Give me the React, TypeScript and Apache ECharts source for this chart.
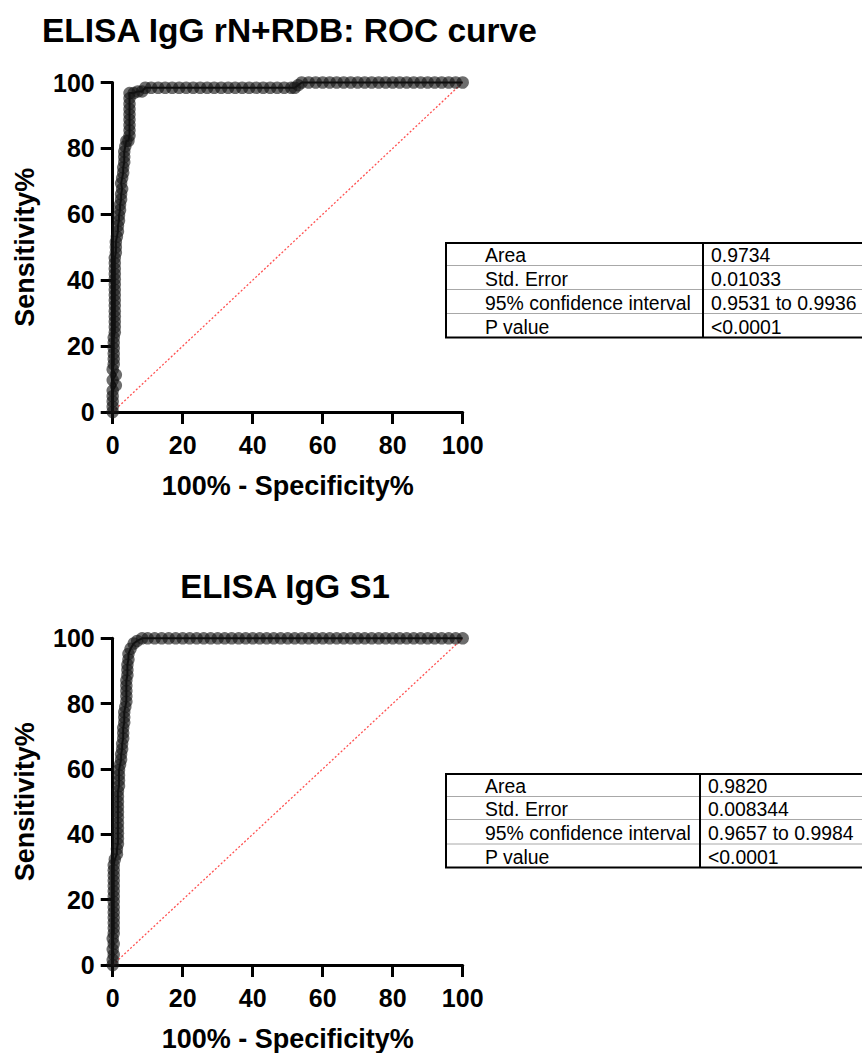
import React, { useEffect, useRef } from "react";
import * as echarts from "echarts";

const FONT = "'Liberation Sans', Arial, Helvetica, sans-serif";

const titles = ["ELISA IgG rN+RDB: ROC curve", "ELISA IgG S1"];
const xAxisTitle = "100% - Specificity%";
const yAxisTitle = "Sensitivity%";

// [100% - Specificity%, Sensitivity%]
const topCurve: [number, number][] = [
  [0, 0], [0, 1.6], [0, 3.2], [0, 4.8], [0, 6.5], [0.9, 8.1], [0, 9.7], [0.9, 11.3], [0, 12.9], [0.3, 14.5],
  [0.3, 16.1], [0.3, 17.7], [0.3, 19.4], [0.3, 21], [0.3, 22.6], [0.6, 24.2], [0.6, 25.8], [0.6, 27.4], [0.6, 29],
  [0.6, 30.6], [0.6, 32.3], [0.6, 33.9], [0.6, 35.5], [0.6, 37.1], [0.6, 38.7], [0.6, 40.3], [0.6, 41.9], [0.6, 43.5],
  [0.6, 45.2], [0.6, 46.8], [0.9, 48.4], [0.9, 50], [0.9, 51.6], [1.2, 53.2], [1.5, 54.8], [1.5, 56.5], [1.8, 58.1],
  [1.8, 59.7], [2.1, 61.3], [2.1, 62.9], [2.4, 64.5], [2.4, 66.1], [2.7, 67.7], [2.4, 69.4], [2.7, 71], [3, 72.6],
  [3, 74.2], [3.3, 75.8], [3.3, 77.4], [3.3, 79], [3.6, 80.6], [3.9, 82.3], [4.5, 82.3], [4.8, 83.9], [4.8, 85.5],
  [4.8, 87.1], [4.8, 88.7], [4.8, 90.3], [4.8, 91.9], [4.8, 93.5], [4.8, 95.2], [4.8, 96.8], [6, 96.8], [7.2, 97.3],
  [8.4, 97.3], [9.3, 98.4], [11, 98.4], [13, 98.4], [15, 98.4], [17, 98.4], [19, 98.4], [21, 98.4], [23, 98.4],
  [25, 98.4], [27, 98.4], [29, 98.4], [31, 98.4], [33, 98.4], [35, 98.4], [37, 98.4], [39, 98.4], [41, 98.4],
  [43, 98.4], [45, 98.4], [47, 98.4], [49, 98.4], [51, 98.4], [52, 98.4], [53, 99.2], [54, 100], [56, 100],
  [58, 100], [60, 100], [62, 100], [64, 100], [66, 100], [68, 100], [70, 100], [72, 100], [74, 100], [76, 100],
  [78, 100], [80, 100], [82, 100], [84, 100], [86, 100], [88, 100], [90, 100], [92, 100], [94, 100], [96, 100],
  [98, 100], [100, 100],
];

const bottomCurve: [number, number][] = [
  [0, 0], [0, 1.6], [0.3, 3.2], [0, 4.8], [0.3, 6.5], [0, 8.1], [0.3, 9.7], [0.3, 11.3], [0.3, 12.9], [0.3, 14.5],
  [0.3, 16.1], [0.3, 17.7], [0.3, 19.4], [0.3, 21], [0.3, 22.6], [0.3, 24.2], [0.3, 25.8], [0.3, 27.4], [0.3, 29],
  [0.3, 30.6], [0.6, 32.3], [1.2, 33.9], [1.2, 35.5], [1.5, 37.1], [1.5, 38.7], [1.5, 40.3], [1.5, 41.9], [1.5, 43.5],
  [1.5, 45.2], [1.5, 46.8], [1.5, 48.4], [1.5, 50], [1.5, 51.6], [1.5, 53.2], [1.8, 54.8], [1.8, 56.5], [1.8, 58.1],
  [1.8, 59.7], [2.1, 61.3], [2.4, 62.9], [2.4, 64.5], [2.7, 66.1], [2.7, 67.7], [3, 69.4], [3, 71], [3, 72.6],
  [3.3, 74.2], [3.3, 75.8], [3.3, 77.4], [3.6, 79], [3.9, 80.6], [3.9, 82.3], [3.9, 83.9], [3.9, 85.5], [3.9, 87.1],
  [4.2, 88.7], [4.2, 90.3], [4.2, 91.9], [4.5, 93.5], [4.5, 95.2], [5.1, 96.8], [6, 98.4], [7, 99.2], [8.4, 100],
  [10, 100], [12, 100], [14, 100], [16, 100], [18, 100], [20, 100], [22, 100], [24, 100], [26, 100], [28, 100],
  [30, 100], [32, 100], [34, 100], [36, 100], [38, 100], [40, 100], [42, 100], [44, 100], [46, 100], [48, 100],
  [50, 100], [52, 100], [54, 100], [56, 100], [58, 100], [60, 100], [62, 100], [64, 100], [66, 100], [68, 100],
  [70, 100], [72, 100], [74, 100], [76, 100], [78, 100], [80, 100], [82, 100], [84, 100], [86, 100], [88, 100],
  [90, 100], [92, 100], [94, 100], [96, 100], [98, 100], [100, 100],
];

const chanceLine: [number, number][] = [[0, 0], [100, 100]];

const tableLabels = ["Area", "Std. Error", "95% confidence interval", "P value"];
const topValues = ["0.9734", "0.01033", "0.9531 to 0.9936", "<0.0001"];
const bottomValues = ["0.9820", "0.008344", "0.9657 to 0.9984", "<0.0001"];

const GRIDS = [
  { left: 112.7, top: 82.5, width: 350, height: 329.5 },
  { left: 112.7, top: 638.3, width: 350, height: 332.5 },
];

function makeTable(x: number, y: number, divX: number, rowHs: number[], values: string[]) {
  const width = 440;
  const total = rowHs.reduce((a, b) => a + b, 0);
  const children: any[] = [];
  children.push({
    type: "rect",
    shape: { x, y, width, height: total },
    style: { fill: "#fff", stroke: "#000", lineWidth: 2 },
  });
  let yy = y;
  rowHs.forEach((h, i) => {
    if (i > 0) {
      children.push({
        type: "line",
        shape: { x1: x + 1, y1: yy, x2: x + width, y2: yy },
        style: { stroke: "#a8a8a8", lineWidth: 1 },
      });
    }
    children.push({
      type: "text",
      x: 485,
      y: yy + h / 2 + 1,
      style: { text: tableLabels[i], font: `19.4px ${FONT}`, fill: "#000", textVerticalAlign: "middle", textAlign: "left" },
    });
    children.push({
      type: "text",
      x: divX + 8,
      y: yy + h / 2 + 1,
      style: { text: values[i], font: `19.4px ${FONT}`, fill: "#000", textVerticalAlign: "middle", textAlign: "left" },
    });
    yy += h;
  });
  children.push({
    type: "line",
    shape: { x1: divX, y1: y, x2: divX, y2: y + total },
    style: { stroke: "#000", lineWidth: 2 },
  });
  return { type: "group", children };
}

function axisCommon() {
  return {
    type: "value",
    min: 0,
    max: 100,
    interval: 20,
    splitLine: { show: false },
    axisLine: { show: true, onZero: false, lineStyle: { color: "#000", width: 3 } },
    axisTick: { show: true, length: 12, lineStyle: { color: "#000", width: 3 } },
    axisLabel: { color: "#000", fontSize: 25, fontWeight: "bold", fontFamily: FONT },
    nameTextStyle: { color: "#000", fontSize: 27, fontWeight: "bold", fontFamily: FONT },
  };
}

export default function App() {
  const ref = useRef<HTMLDivElement>(null);
  useEffect(() => {
    if (!ref.current) return;
    const chart = echarts.init(ref.current, null, { renderer: "svg" });
    const xAxes = GRIDS.map((_, i) => ({
      ...axisCommon(),
      gridIndex: i,
      name: xAxisTitle,
      nameLocation: "middle",
      nameGap: 60,
      axisLabel: { ...axisCommon().axisLabel, margin: 20 },
    }));
    const yAxes = GRIDS.map((_, i) => ({
      ...axisCommon(),
      gridIndex: i,
      name: yAxisTitle,
      nameLocation: "middle",
      nameRotate: 90,
      nameGap: 74,
      axisLabel: { ...axisCommon().axisLabel, margin: 18 },
    }));
    const curves = [topCurve, bottomCurve];
    const series: any[] = [];
    curves.forEach((c, i) => {
      series.push({
        type: "line",
        xAxisIndex: i,
        yAxisIndex: i,
        data: chanceLine,
        showSymbol: false,
        lineStyle: { color: "#ff5050", width: 1.3, type: [2, 2] },
        silent: true,
        z: 1,
      });
      series.push({
        type: "line",
        xAxisIndex: i,
        yAxisIndex: i,
        data: c,
        symbol: "circle",
        symbolSize: 12.5,
        showSymbol: true,
        showAllSymbol: true,
        clip: false,
        itemStyle: { color: "rgba(20,20,20,0.62)", borderWidth: 0 },
        lineStyle: { color: "#000", width: 2 },
        silent: true,
        z: 3,
      });
    });
    chart.setOption({
      animation: false,
      backgroundColor: "#fff",
      grid: GRIDS.map((g) => ({ ...g, containLabel: false })),
      xAxis: xAxes,
      yAxis: yAxes,
      series,
      graphic: [
        {
          type: "text",
          x: 42,
          y: 30,
          style: { text: titles[0], font: `bold 33.5px ${FONT}`, fill: "#000", textVerticalAlign: "middle", textAlign: "left" },
        },
        {
          type: "text",
          x: 285,
          y: 586,
          style: { text: titles[1], font: `bold 33px ${FONT}`, fill: "#000", textVerticalAlign: "middle", textAlign: "center" },
        },
        makeTable(446, 243, 703, [22.5, 24, 24, 24], topValues),
        makeTable(446, 774, 700, [22.5, 23, 24.5, 23.5], bottomValues),
      ],
    });
    return () => chart.dispose();
  }, []);
  return (
    <div
      ref={ref}
      style={{ position: "absolute", left: 0, top: 0, width: 862, height: 1053, background: "#fff" }}
    />
  );
}
